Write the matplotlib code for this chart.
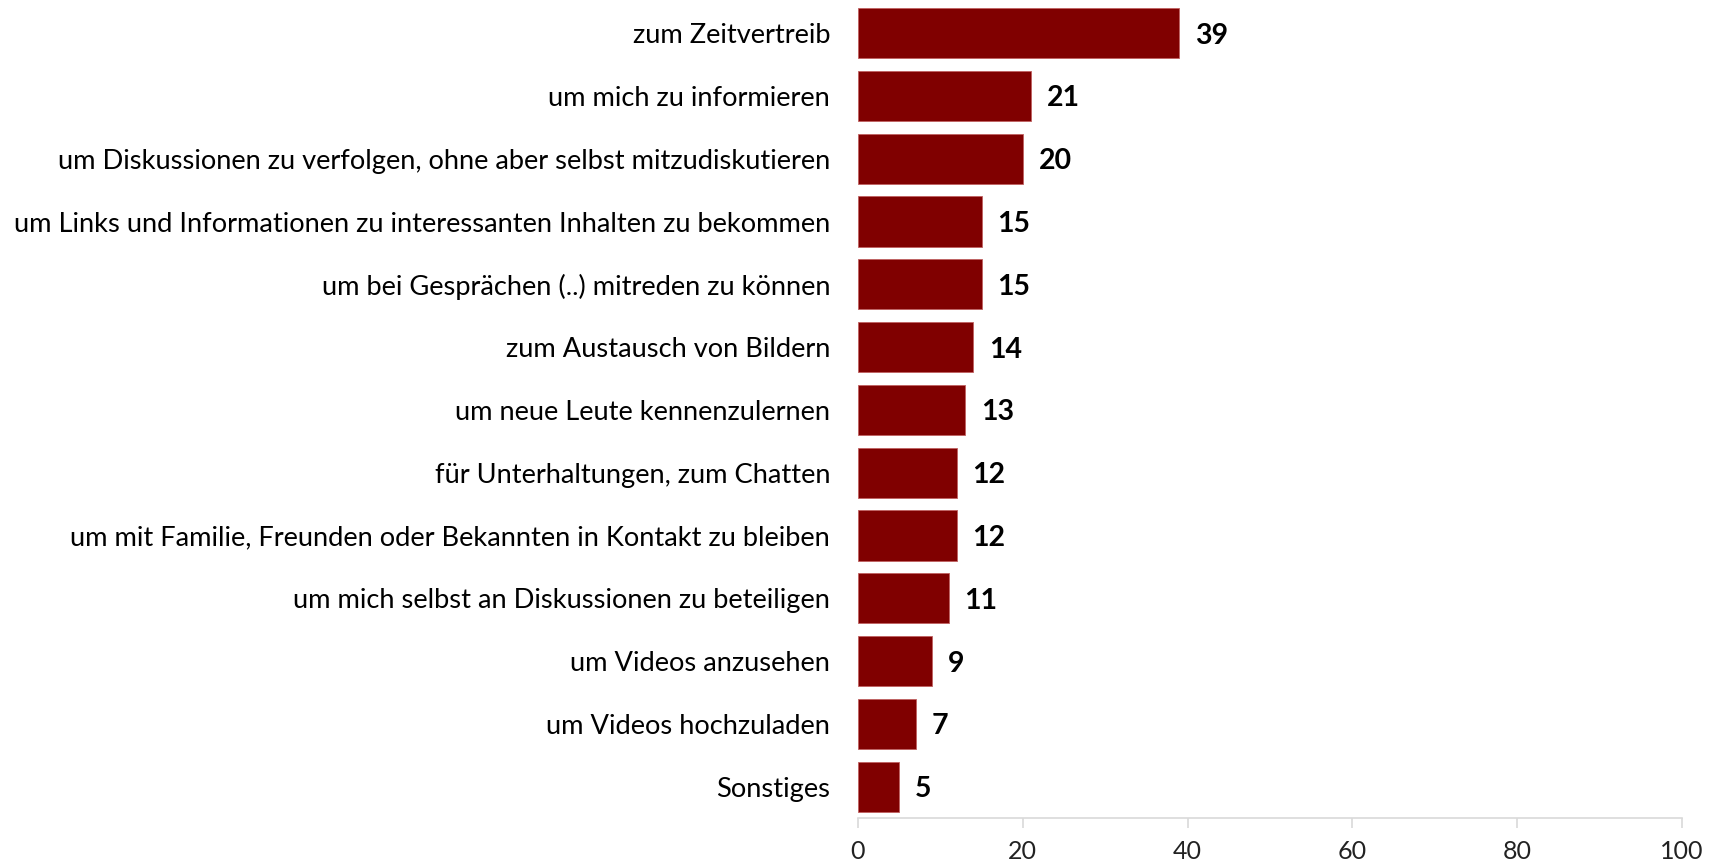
import matplotlib
matplotlib.use('Agg')
import matplotlib.pyplot as plt

categories = [
    'zum Zeitvertreib',
    'um mich zu informieren',
    'um Diskussionen zu verfolgen, ohne aber selbst mitzudiskutieren',
    'um Links und Informationen zu interessanten Inhalten zu bekommen',
    'um bei Gesprächen (..) mitreden zu können',
    'zum Austausch von Bildern',
    'um neue Leute kennenzulernen',
    'für Unterhaltungen, zum Chatten',
    'um mit Familie, Freunden oder Bekannten in Kontakt zu bleiben',
    'um mich selbst an Diskussionen zu beteiligen',
    'um Videos anzusehen',
    'um Videos hochzuladen',
    'Sonstiges',
]
values = [39, 21, 20, 15, 15, 14, 13, 12, 12, 11, 9, 7, 5]
x_ticks = [0, 20, 40, 60, 80, 100]

plt.rcParams['font.family'] = ['Lato', 'DejaVu Sans']

fig = plt.figure(figsize=(17.21, 8.64), dpi=100)
ax = fig.add_axes([0.4985, 0.0532, 0.4788, 0.9448])

pos = list(range(len(categories)))
ax.barh(pos, values, height=0.8, color='#800000', edgecolor='#c06060', linewidth=0.6)
ax.set_ylim(len(categories) - 0.5, -0.5)
ax.set_xlim(0, 100)

# value labels next to the bars
for p, v in zip(pos, values):
    ax.text(v + 1.9, p + 0.04, str(v), va='center', ha='left', fontsize=20.5, fontweight='bold', color='black')

ax.set_yticks(pos)
ax.set_yticklabels(categories, fontsize=19.6)
ax.tick_params(axis='y', length=0, pad=20)
ax.set_xticks(x_ticks)
ax.tick_params(axis='x', length=7, width=1.2, color='#d9d9d9', labelsize=18, labelcolor='#222222', pad=9)

for s in ['top', 'right', 'left']:
    ax.spines[s].set_visible(False)
ax.spines['bottom'].set_color('#d9d9d9')
ax.spines['bottom'].set_linewidth(1.2)

plt.savefig('out.png', dpi=100)
